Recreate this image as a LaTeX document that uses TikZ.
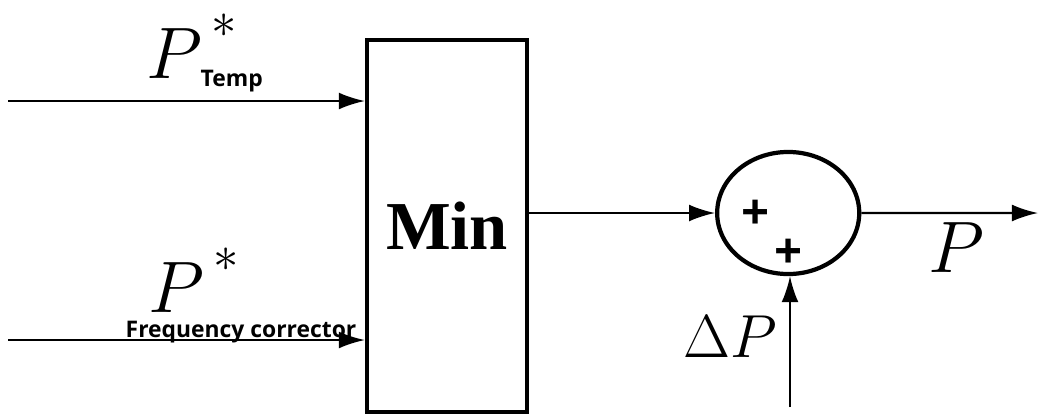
\documentclass[tikz,border=0pt]{standalone}
\usepackage{amsmath}
\usepackage{fontspec}
\newfontfamily\tagfont{Open Sans}
\newfontfamily\minfont{Liberation Serif}
\usetikzlibrary{shapes.geometric, arrows.meta}
\newcommand{\hstar}{^{\,\raisebox{4pt}[0pt][0pt]{$\scriptstyle *$}}}
\tikzstyle{block} = [rectangle, draw=black, line width=1.2pt, minimum width=1.6cm, minimum height=3.72cm, inner sep=0pt, font=\minfont\bfseries\fontsize{19.5}{20}\selectfont]
\tikzstyle{summer} = [ellipse, draw=black, line width=1.2pt, minimum width=1.42cm, minimum height=1.22cm, inner sep=0pt]
\tikzstyle{sign} = [inner sep=0pt, font=\tagfont\bfseries\fontsize{14}{14}\selectfont]
\tikzstyle{tag} = [inner sep=0pt, anchor=base west, font=\tagfont\bfseries\fontsize{6.5}{7}\selectfont]
\tikzstyle{var} = [inner sep=0pt, anchor=base west, font=\fontsize{22}{24}\selectfont]
\tikzstyle{arrow} = [line width=0.6pt,-{Latex[length=7.4pt,width=4.8pt]}]

\begin{document}
\begin{tikzpicture}
			[x=0.01cm,y=-0.01cm,node distance=3.41cm]
			\useasboundingbox (0,0) rectangle (1039,417);
			\node (min) [block] at (447,226) {Min};
			\node (sum) [summer,right of = min,yshift = 0.13cm] {};
			\node (plusa) [sign] at (756,215) {+};
			\node (plusb) [sign] at (789,254) {+};
			% input labels
			\node (ptemp) [var] at (146,78) {$P\hstar$};
			\node (temp) [tag] at (200,86) {Temp};
			\node (pfreq) [var] at (148,312) {$P\hstar$};
			\node (freq) [tag] at (125,337) {Frequency corrector};
			% output and correction labels
			\node (pout) [var] at (928,272) {$P$};
			\node (dp) [var,font=\fontsize{19}{21}\selectfont] at (683,357) {$\Delta P$};
			\coordinate (intemp) at (8,101);
			\coordinate (infreq) at (8,340);
			\coordinate (out) at (1038,213);
			\coordinate (indp) at (790,407);
			\draw [arrow] (intemp) -- (intemp -| min.west);
			\draw [arrow] (infreq) -- (infreq -| min.west);
			\draw [arrow] (min.east |- sum.west) -- (sum.west);
			\draw [arrow] (sum.east) -- (out);
			\draw [arrow] (indp) -- (indp |- sum.south);
		\end{tikzpicture}
\end{document}
